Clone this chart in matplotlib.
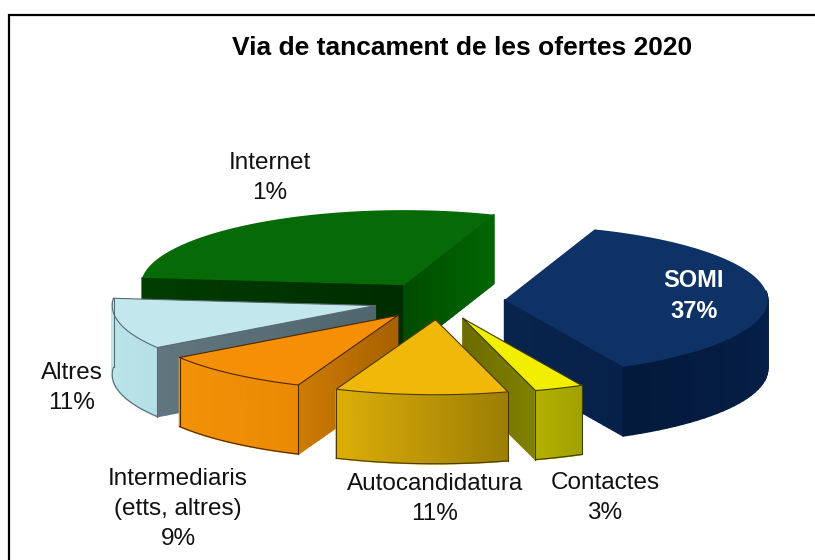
import numpy as np
import matplotlib
matplotlib.use('Agg')
import matplotlib.pyplot as plt
from matplotlib.collections import PolyCollection
from matplotlib.colors import to_rgb

title = 'Via de tancament de les ofertes 2020'
categories = ['SOMI', 'Contactes', 'Autocandidatura', 'Intermediaris\n(etts, altres)', 'Altres', 'Internet']
# slice sizes as drawn; Internet is drawn at about 29 although its label says 1%
shares = [37, 3, 10.6, 9.4, 11, 29]
pct_labels = ['37%', '3%', '11%', '9%', '11%', '1%']

# layout of the pie, in image pixels
cx, cy = 439, 301
rx, ry = 263, 75
depth = 69
explode = 0.25
start_angle = 70

top_colors = ['#0e3265', '#f2ee00', '#f0b808', '#f59006', '#c2e8ee', '#066a06']
# rim colours run clockwise along the slice
outer_colors = [('#06204a', '#041a3c'), ('#a0a000', '#b4b000'), ('#9c7e04', '#dcae08'),
                ('#ea8a04', '#f39208'), ('#b4e0e6', '#c0e6ea'), ('#004400', '#004400')]
first_wall = [('#06204a', '#06204a'), ('#7c7c00', '#7c7c00'), ('#8c7000', '#8c7000'),
              ('#a86200', '#cc7a04'), ('#50666e', '#60757d'), ('#002c00', '#003c00')]
last_wall = [('#08244c', '#06204a'), ('#6c6c00', '#808000'), ('#a88800', '#c09c04'),
             ('#9a5c00', '#cc7a04'), ('#4c626a', '#5f747c'), ('#004c00', '#006600')]
edge_colors = [None, '#3c3c00', '#4c3c00', '#4c2800', '#5a6a70', None]
draw_order = [5, 0, 4, 3, 1, 2]

text_pos = [(694, 296), (605, 498), (435, 499), (178, 509), (72, 388), (270, 178)]


def add_wall(ax, xs, ys, c0, c1, z):
    polys = []
    colors = []
    c0, c1 = np.array(to_rgb(c0)), np.array(to_rgb(c1))
    for i in range(len(xs) - 1):
        polys.append([(xs[i], ys[i]), (xs[i + 1], ys[i + 1]),
                      (xs[i + 1], ys[i + 1] + depth), (xs[i], ys[i] + depth)])
        colors.append(c0 + (c1 - c0) * i / max(len(xs) - 2, 1))
    ax.add_collection(PolyCollection(polys, facecolors=colors, edgecolors=colors, linewidths=1.2, zorder=z))


fig, ax = plt.subplots(figsize=(8.15, 5.6), dpi=100)
ax.set_position([0, 0, 1, 1])
ax.set_xlim(0, 815)
ax.set_ylim(560, 0)
ax.axis('off')

# only the left and top of the chart border are in the picture
ax.plot([8.5, 8.5, 815], [560, 14.5, 14.5], color='black', lw=1.6, solid_joinstyle='miter', zorder=1)

spans = np.array(shares) / sum(shares) * 360
ends = start_angle - np.cumsum(spans)
starts = ends + spans

for n, i in enumerate(draw_order):
    z = 2 + n * 5
    mid = np.radians((starts[i] + ends[i]) / 2)
    ax0 = cx + explode * rx * np.cos(mid)
    ay0 = cy - explode * ry * np.sin(mid)
    t = np.radians(np.linspace(starts[i], ends[i], 60))
    ox = ax0 + rx * np.cos(t)
    oy = ay0 - ry * np.sin(t)

    # a radial wall shows only if it turns towards the viewer
    if np.cos(t[0]) < 0:
        add_wall(ax, np.linspace(ax0, ox[0], 25), np.linspace(ay0, oy[0], 25), *first_wall[i], z)
    if np.cos(t[-1]) > 0:
        add_wall(ax, np.linspace(ax0, ox[-1], 25), np.linspace(ay0, oy[-1], 25), *last_wall[i], z)

    front = np.sin(t) < 0.12
    if front.sum() > 1:
        add_wall(ax, ox[front], oy[front], *outer_colors[i], z + 1)

    ax.fill(np.r_[ax0, ox], np.r_[ay0, oy], color=top_colors[i], lw=0, zorder=z + 2)

    edge = edge_colors[i]
    if edge:
        ax.plot(np.r_[ax0, ox, ax0], np.r_[ay0, oy, ay0], color=edge, lw=0.8, zorder=z + 3)
        ax.plot(ox[front], oy[front] + depth, color=edge, lw=0.8, zorder=z + 3)
        for k in (0, -1):
            ax.plot([ox[k], ox[k]], [oy[k], oy[k] + depth], color=edge, lw=0.8, zorder=z + 3)

font = 'Liberation Sans'
ax.text(462, 48, title, family=font, fontsize=19, fontweight='bold', ha='center', va='center', zorder=60)
for i, (name, pct) in enumerate(zip(categories, pct_labels)):
    white = name == 'SOMI'
    ax.text(text_pos[i][0], text_pos[i][1], f'{name}\n{pct}', family=font, fontsize=17 if white else 17.5,
            fontweight='bold' if white else 'normal', color='white' if white else '#111111',
            ha='center', va='center', linespacing=1.47, zorder=60)

fig.savefig('out.png', dpi=100)
plt.close(fig)
